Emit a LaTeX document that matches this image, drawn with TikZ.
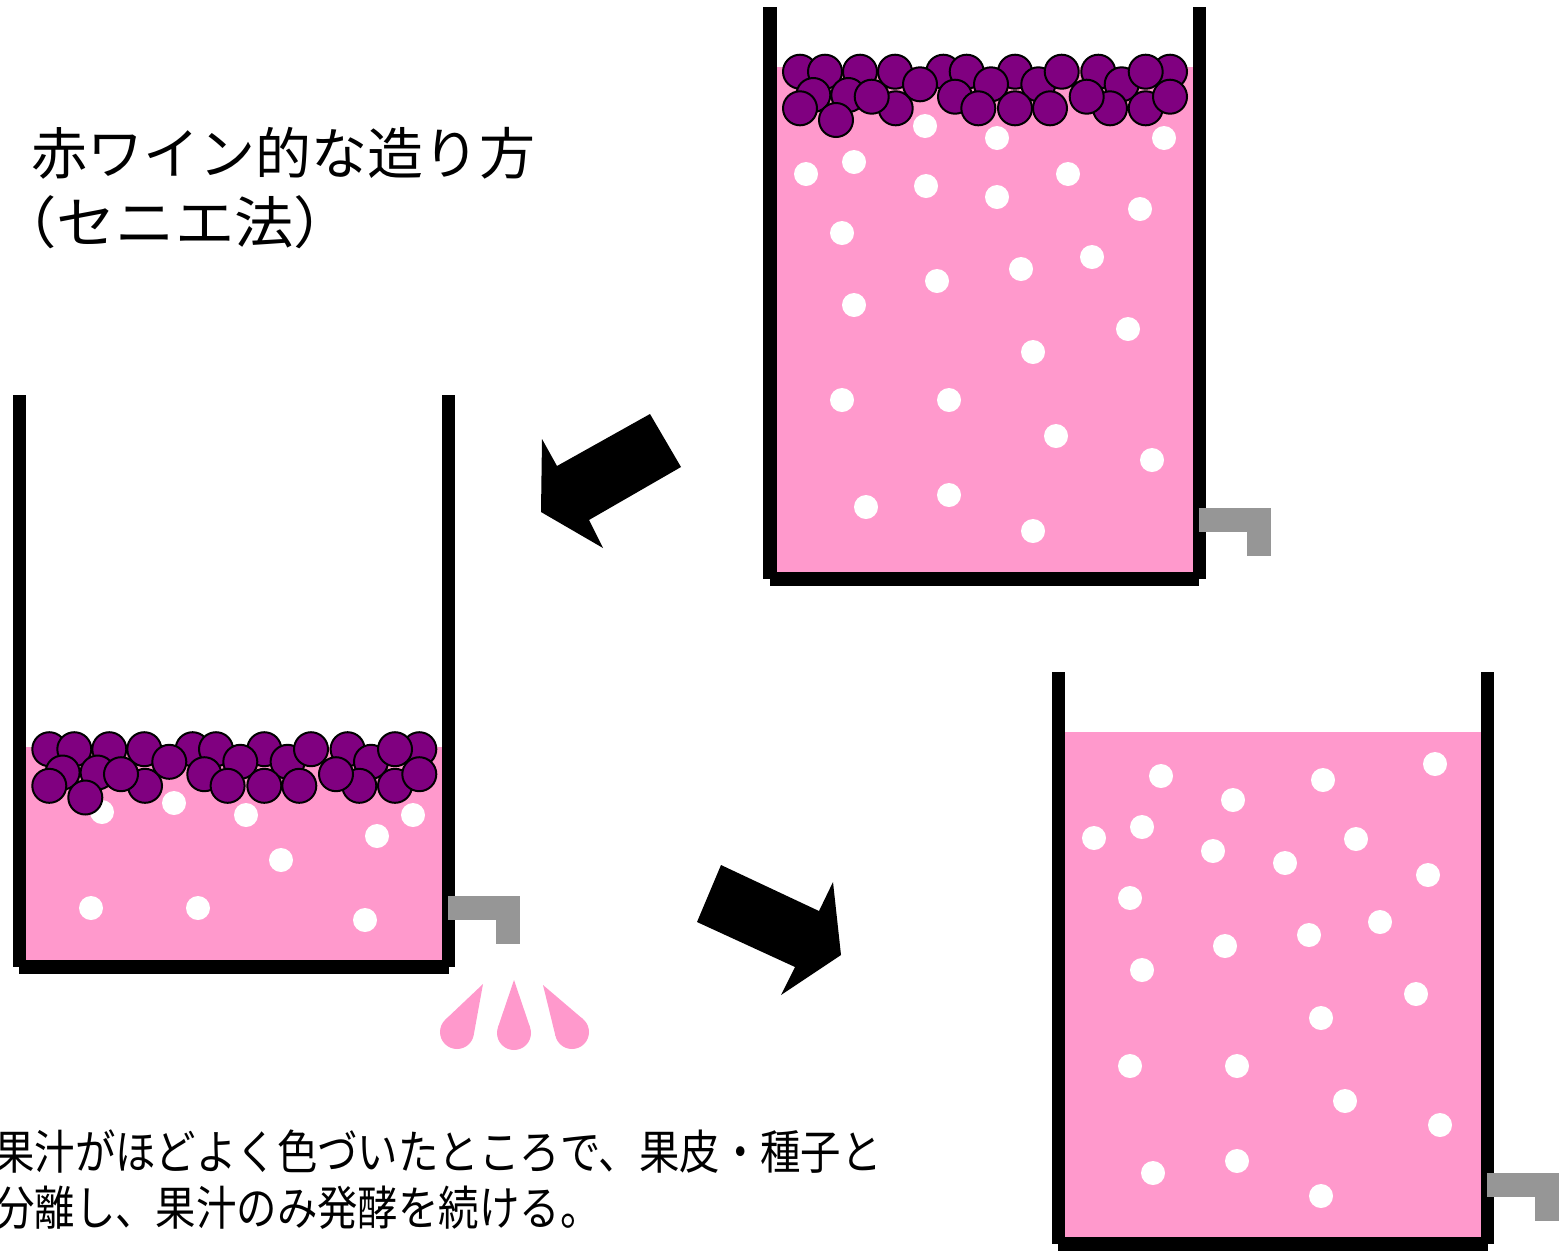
\documentclass[tikz,border=0pt]{standalone}
\usepackage{fontspec}
\usepackage{graphicx}
\newfontfamily\jpfont{Noto Sans CJK JP}

\definecolor{juice}{HTML}{FF99CC}
\definecolor{grape}{HTML}{800080}
\definecolor{tapgray}{HTML}{969696}

\tikzset{
  wall/.style={line width=13.4pt, line cap=butt, black},
  berry/.style={fill=grape, draw=black, line width=2pt},
  bubble/.style={fill=white},
  tapfill/.style={fill=tapgray},
  bigarrow/.style={fill=black},
  dropfill/.style={fill=juice},
  titletext/.style={anchor=base west, inner sep=0pt, font=\jpfont\fontsize{56}{60}\selectfont},
  notetext/.style={anchor=base west, inner sep=0pt, font=\jpfont\fontsize{47}{50}\selectfont}
}

% tank: #1,#2 = top of the left wall (its centre line), #3 = depth of the juice surface
\newcommand{\vessel}[3]{%
  \begin{scope}[shift={(#1,#2)}]
    \fill[juice] (6.7,#3) rectangle (422.7,565);
    \draw[wall] (0,0) -- (0,572);
    \draw[wall] (429.4,0) -- (429.4,572);
    \draw[wall] (0,572) -- (429.4,572);
    \fill[tapfill] (429,501) rectangle (501,525);
    \fill[tapfill] (477,501) rectangle (501,549);
  \end{scope}}

% floating cap of skins: #1 = left wall centre, #2 = juice surface
\newcommand{\skincap}[2]{%
  \begin{scope}[shift={(#1,#2)}]
    \foreach \gx/\gy in {30/4.7, 55/4.7, 90/4.7, 125/4.7, 173.3/4.7, 196.7/4.7,
                         245/4.7, 328.3/4.7, 400/4.7}
      \draw[berry] (\gx,\gy) circle[radius=17];
    \foreach \gx/\gy in {43.3/28, 78.3/28, 185/29.7, 221/17.3, 268.3/17.3, 351.7/17.3}
      \draw[berry] (\gx,\gy) circle[radius=17];
    \foreach \gx/\gy in {30/41.3, 66/53, 125.7/41.3, 208.3/41.3, 245/41.3,
                         280/41.3, 340/41.3, 375.7/41.3}
      \draw[berry] (\gx,\gy) circle[radius=17];
    \foreach \gx/\gy in {291.7/4.7, 375.7/4.7, 101.7/29.7, 150/17.3, 316.7/29.7, 400/29.7}
      \draw[berry] (\gx,\gy) circle[radius=17];
  \end{scope}}

\begin{document}
\begin{tikzpicture}[x=1pt, y=-1pt]
  \useasboundingbox (0,0) rectangle (1561,1254);

  % title
  \node[titletext] (title1) at (31,174) {赤ワイン的な造り方};
  \node[titletext] (title2) at (-3,243) {\scalebox{1.06}[1]{（セニエ法）}};

  % tank 1: full tank with skins on top
  \vessel{770}{7}{60}
  \foreach \bx/\by in {925/126, 997/138, 1164/138, 806/174, 854/162, 926/186,
                       997/197, 1068/174, 1140/209, 842/233, 937/281, 1021/269,
                       1092/257, 854/305, 1128/329, 1033/352, 842/400, 949/400,
                       1056/436, 1152/460, 866/507, 949/495, 1033/531}
    \fill[bubble] (\bx,\by) circle[radius=12];
  \skincap{770}{67}

  % tank 2: part of the juice drawn off
  \vessel{19.3}{395}{352}
  \foreach \bx/\by in {102/812, 174/803, 246/815, 377/836, 413/815, 281/860,
                       91/908, 198/908, 365/920}
    \fill[bubble] (\bx,\by) circle[radius=12];
  \skincap{19.3}{744.5}

  % juice dripping from the tap
  \fill[dropfill] (457,1032) circle[radius=17];
  \fill[dropfill] (483,984) -- (473.7,1035) -- (445.3,1019.7) -- cycle;
  \fill[dropfill] (514,1033) circle[radius=17];
  \fill[dropfill] (514,980) -- (530.1,1027.5) -- (497.9,1027.5) -- cycle;
  \fill[dropfill] (572,1032) circle[radius=17];
  \fill[dropfill] (543,985) -- (583,1019.1) -- (555.5,1036) -- cycle;

  % tank 3: juice only
  \vessel{1058.3}{672}{60}
  \foreach \bx/\by in {1161/776, 1233/800, 1323/780, 1435/764, 1094/838, 1142/827,
                       1213/851, 1285/863, 1356/839, 1428/875, 1130/898, 1380/922,
                       1309/935, 1225/946, 1142/970, 1416/994, 1321/1018, 1130/1066,
                       1237/1066, 1345/1101, 1440/1125, 1153/1173, 1237/1161, 1321/1196}
    \fill[bubble] (\bx,\by) circle[radius=12];

  % block arrows
  \fill[bigarrow] (650,414) -- (681,467) -- (589,520) -- (603,548) -- (541,512)
                  -- (542,439) -- (557,466) -- cycle;
  \fill[bigarrow] (721,865) -- (819,911) -- (833,882) -- (841,955) -- (781,995)
                  -- (795,967) -- (697,922) -- cycle;

  % explanation
  \node[notetext] (note1) at (-6,1169) {\scalebox{0.86}[1]{果汁がほどよく色づいたところで、果皮・種子と}};
  \node[notetext] (note2) at (-6,1225) {\scalebox{0.86}[1]{分離し、果汁のみ発酵を続ける。}};
\end{tikzpicture}
\end{document}
